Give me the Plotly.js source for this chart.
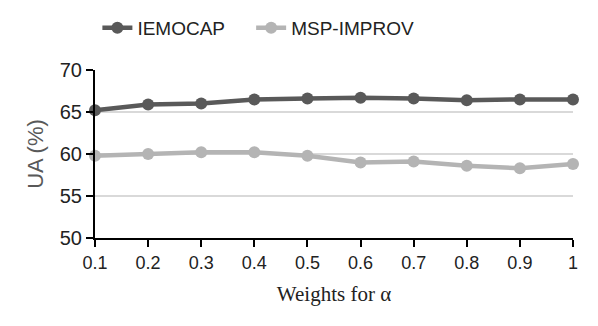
<!DOCTYPE html>
<html><head><meta charset="utf-8">
<script src="https://cdn.plot.ly/plotly-3.0.1.min.js"></script>
<style>html,body{margin:0;padding:0;background:#fff}#c{width:598px;height:326px}</style>
</head><body><div id="c"></div>
<script>
var weights = [0.1,0.2,0.3,0.4,0.5,0.6,0.7,0.8,0.9,1];
var tickLabels = ["0.1","0.2","0.3","0.4","0.5","0.6","0.7","0.8","0.9","1"];
var seriesNames = ["IEMOCAP","MSP-IMPROV"];
var iemocap = [65.2,65.9,66.0,66.5,66.6,66.7,66.6,66.4,66.5,66.5];
var mspImprov = [59.8,60.0,60.2,60.2,59.8,59.0,59.1,58.6,58.3,58.8];

var pad = "\u00a0\u00a0\u00a0\u00a0";
var traces = [
 {x:weights,y:iemocap,name:seriesNames[0]+pad,mode:"lines+markers",cliponaxis:false,
  line:{color:"#595959",width:4.5},marker:{color:"#595959",size:12}},
 {x:weights,y:mspImprov,name:seriesNames[1],mode:"lines+markers",cliponaxis:false,
  line:{color:"#b4b4b4",width:4.5},marker:{color:"#b4b4b4",size:12}}
];
var layout = {
 width:598,height:326,
 margin:{l:95,r:25,t:70,b:88,autoexpand:false},
 paper_bgcolor:"#fff",plot_bgcolor:"#fff",
 font:{family:"Liberation Sans, Arial, sans-serif",color:"#222",size:18},
 showlegend:true,
 legend:{orientation:"h",x:0.005,xanchor:"left",y:1.25,yanchor:"middle",
   font:{size:19,color:"#222"},tracegroupgap:0},
 xaxis:{range:[0.1,1],tickvals:weights,ticktext:tickLabels,
   showgrid:false,zeroline:false,showline:true,linecolor:"#000",linewidth:2,
   ticks:"outside",ticklen:7,tickwidth:2,tickcolor:"#000",
   tickfont:{size:18,color:"#222"},
   title:{text:"Weights for α",font:{family:"Liberation Serif, Times New Roman, serif",size:21,color:"#222"},standoff:15}},
 yaxis:{range:[50,70],dtick:5,tick0:50,
   showgrid:true,gridcolor:"#d9d9d9",gridwidth:2,zeroline:false,
   showline:true,linecolor:"#000",linewidth:2,
   ticks:"outside",ticklen:7,tickwidth:2,tickcolor:"#000",
   tickfont:{size:20,color:"#222"},
   title:{text:"UA (%)",font:{size:22,color:"#595959"},standoff:10}}
};
Plotly.newPlot("c",traces,layout,{displayModeBar:false,staticPlot:true});
</script></body></html>
